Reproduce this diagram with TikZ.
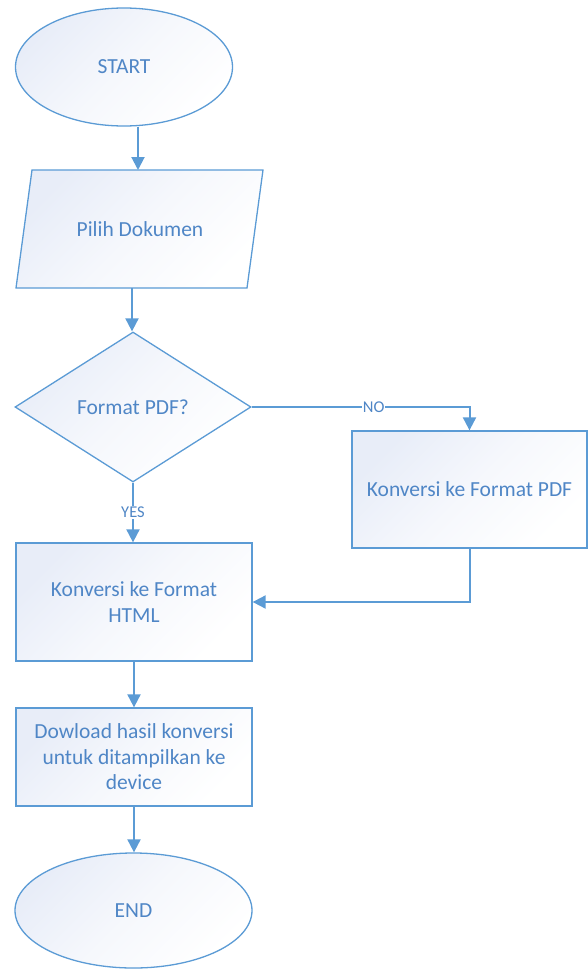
\documentclass[tikz,border=0pt]{standalone}
\usepackage{fontspec}
\setmainfont{Carlito}
\usetikzlibrary{shapes.geometric,arrows.meta,calc}
\definecolor{ln}{HTML}{5B9BD5}
\definecolor{tx}{HTML}{4F86C6}
\definecolor{fl}{HTML}{E8EDF8}
\begin{document}
\begin{tikzpicture}[x=1pt,y=-1pt,
  shp/.style={draw=ln,line width=1.3pt,top color=fl,bottom color=white,middle color=white!60!fl,shading angle=45,
    text=tx,font=\fontsize{21.5}{25.5}\selectfont,align=center,inner sep=0pt},
  txt/.style={text=tx,font=\fontsize{21.5}{25.5}\selectfont,align=center,inner sep=0pt},
  arr/.style={draw=ln,line width=2pt,-{Triangle[length=13pt,width=13pt]}},
  lbl/.style={fill=white,text=tx,font=\fontsize{16.5}{18}\selectfont,inner sep=1pt}]
\useasboundingbox (0,0) rectangle (587,969);
% START
\node[shp,ellipse,minimum width=217pt,minimum height=118pt] (start) at (124,67) {START};
% parallelogram
\path[shp] (32,170) -- (263,170) -- (247,288) -- (16,288) -- cycle;
\node[txt] (pilih) at (140,229) {Pilih Dokumen};
\coordinate (pTop) at (138,170);
\coordinate (pBot) at (132,288);
% decision
\node[shp,diamond,minimum width=236pt,minimum height=150pt] (dec) at (133,407) {Format PDF?};
% boxes
\node[shp,rectangle,minimum width=235pt,minimum height=117pt] (pdf) at (469.5,489.5) {Konversi ke Format PDF};
\node[shp,rectangle,minimum width=236pt,minimum height=118pt] (html) at (134,602) {Konversi ke Format\\HTML};
\node[shp,rectangle,minimum width=236pt,minimum height=98pt] (dl) at (134,757) {Dowload hasil konversi\\untuk ditampilkan ke\\device};
\node[shp,ellipse,minimum width=237pt,minimum height=115pt] (end) at (133.5,910.5) {END};
% connectors
\draw[arr] (start.south -| pTop) -- (pTop);
\draw[arr] (pBot) -- (pBot |- dec.north);
\draw[arr] (dec.east) -| node[lbl,pos=0.28]{NO} (pdf.north);
\draw[arr] (dec.south) -- node[lbl,pos=0.5]{YES} (dec.south |- html.north);
\draw[arr] (pdf.south) |- (html.east);
\draw[arr] (html.south) -- (dl.north);
\draw[arr] (dl.south) -- (dl.south |- end.north);
\end{tikzpicture}
\end{document}
